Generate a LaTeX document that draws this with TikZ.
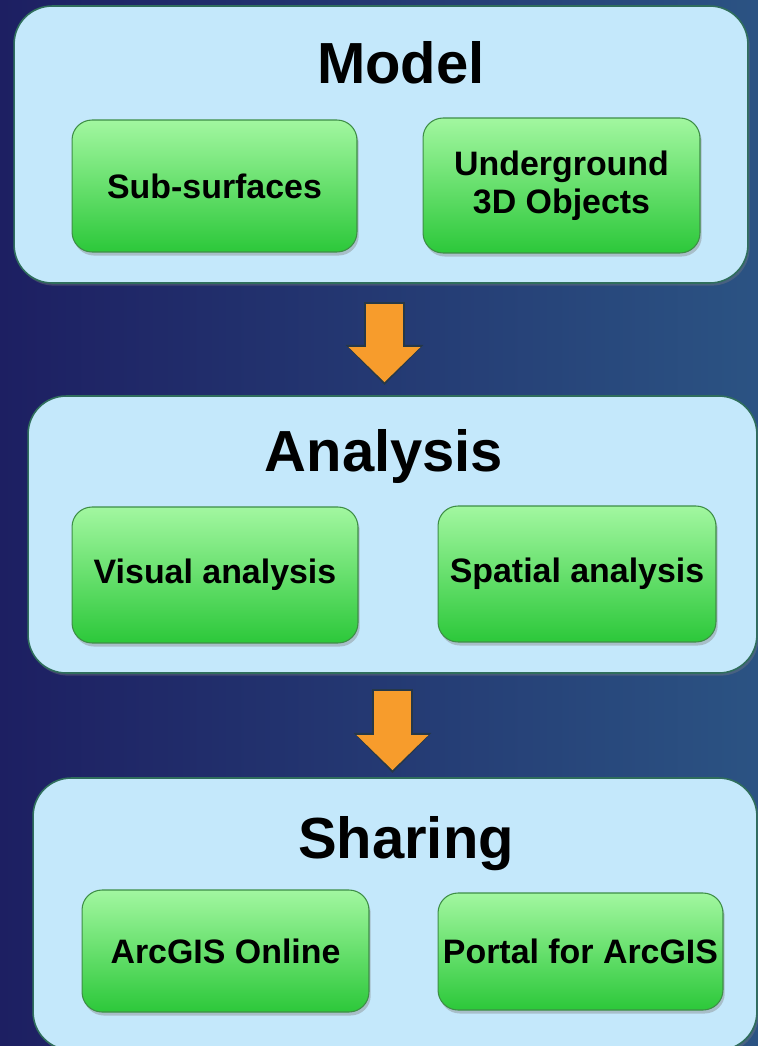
\documentclass[tikz,border=0pt]{standalone}
\usepackage{fontspec}
\setmainfont{Liberation Sans}
\usetikzlibrary{arrows.meta,positioning,calc,shadows}
\definecolor{bgleft}{HTML}{1D1F62}
\definecolor{bgright}{HTML}{2B5383}
\definecolor{panelfill}{HTML}{C4E8FB}
\definecolor{panelrule}{HTML}{2F6E5C}
\definecolor{leaftop}{HTML}{A2F7A0}
\definecolor{leafbot}{HTML}{2CC83A}
\definecolor{leafrule}{HTML}{3E8E46}
\definecolor{flow}{HTML}{F79C2C}
\definecolor{flowrule}{HTML}{263848}

\tikzset{
  panel/.style={draw=panelrule, line width=0.9pt, fill=panelfill, rounded corners=0.76cm,
    inner sep=0pt, outer sep=0pt, drop shadow={opacity=0.35, shadow xshift=1pt, shadow yshift=-1.5pt}},
  leaf/.style={draw=leafrule, line width=0.6pt, top color=leaftop, bottom color=leafbot,
    rounded corners=0.4cm, inner sep=0pt, outer sep=0pt, align=center,
    font=\fontsize{19.3}{21.6}\selectfont\bfseries,
    drop shadow={opacity=0.4, shadow xshift=1pt, shadow yshift=-2pt}},
  heading/.style={anchor=base, inner sep=0pt, font=\fontsize{33}{38}\selectfont\bfseries},
  flowedge/.style={draw=flowrule, line width=0.82cm, -{Triangle[width=1.56cm,length=0.80cm,line width=0pt]}},
  flowbody/.style={draw=flow, line width=0.74cm, -{Triangle[width=1.44cm,length=0.70cm,line width=0pt]}},
}

\begin{document}
\begin{tikzpicture}[x=0.02cm,y=-0.02cm]
\useasboundingbox (0,0) rectangle (758,1046);
\clip (0,0) rectangle (758,1046);
\shade[left color=bgleft, right color=bgright] (0,0) rectangle (758,1046);

% model block
\node[panel, minimum width=14.68cm, minimum height=5.54cm] (model) at (381,144.5) {};
\node[heading] (tmodel) at (401,83) {Model};
\node[leaf, minimum width=5.70cm, minimum height=2.64cm] (subsurf) at (214.5,186) {Sub-surfaces};
\node[leaf, minimum width=5.54cm, minimum height=2.70cm] (underground) at (561.5,185.5) {Underground\\3D Objects};

% analysis block
\node[panel, minimum width=14.58cm, minimum height=5.54cm] (analysis) at (392.5,534.5) {};
\node[heading] (tanalysis) at (384,471) {Analysis};
\node[leaf, minimum width=5.72cm, minimum height=2.72cm] (visual) at (215,575) {Visual analysis};
\node[leaf, minimum width=5.56cm, minimum height=2.72cm] (spatial) at (577,574) {Spatial analysis};

% sharing block
\node[panel, minimum width=14.48cm, minimum height=5.44cm] (sharing) at (395,914) {};
\node[heading] (tsharing) at (406,858) {Sharing};
\node[leaf, minimum width=5.74cm, minimum height=2.44cm] (online) at (225.5,951) {ArcGIS Online};
\node[leaf, minimum width=5.70cm, minimum height=2.34cm] (portal) at (580.5,951.5) {Portal for ArcGIS};

% flow arrows
\draw[flowedge, shorten <=0.38cm, shorten >=0.224cm] ([xshift=0.07cm]model.south) -- ([xshift=0.07cm]model.south |- analysis.north);
\draw[flowbody, shorten <=0.42cm, shorten >=0.28cm] ([xshift=0.07cm]model.south) -- ([xshift=0.07cm]model.south |- analysis.north);
\draw[flowedge, shorten <=0.32cm, shorten >=0.104cm] (analysis.south) -- (analysis.south |- sharing.north);
\draw[flowbody, shorten <=0.36cm, shorten >=0.16cm] (analysis.south) -- (analysis.south |- sharing.north);
\end{tikzpicture}
\end{document}
